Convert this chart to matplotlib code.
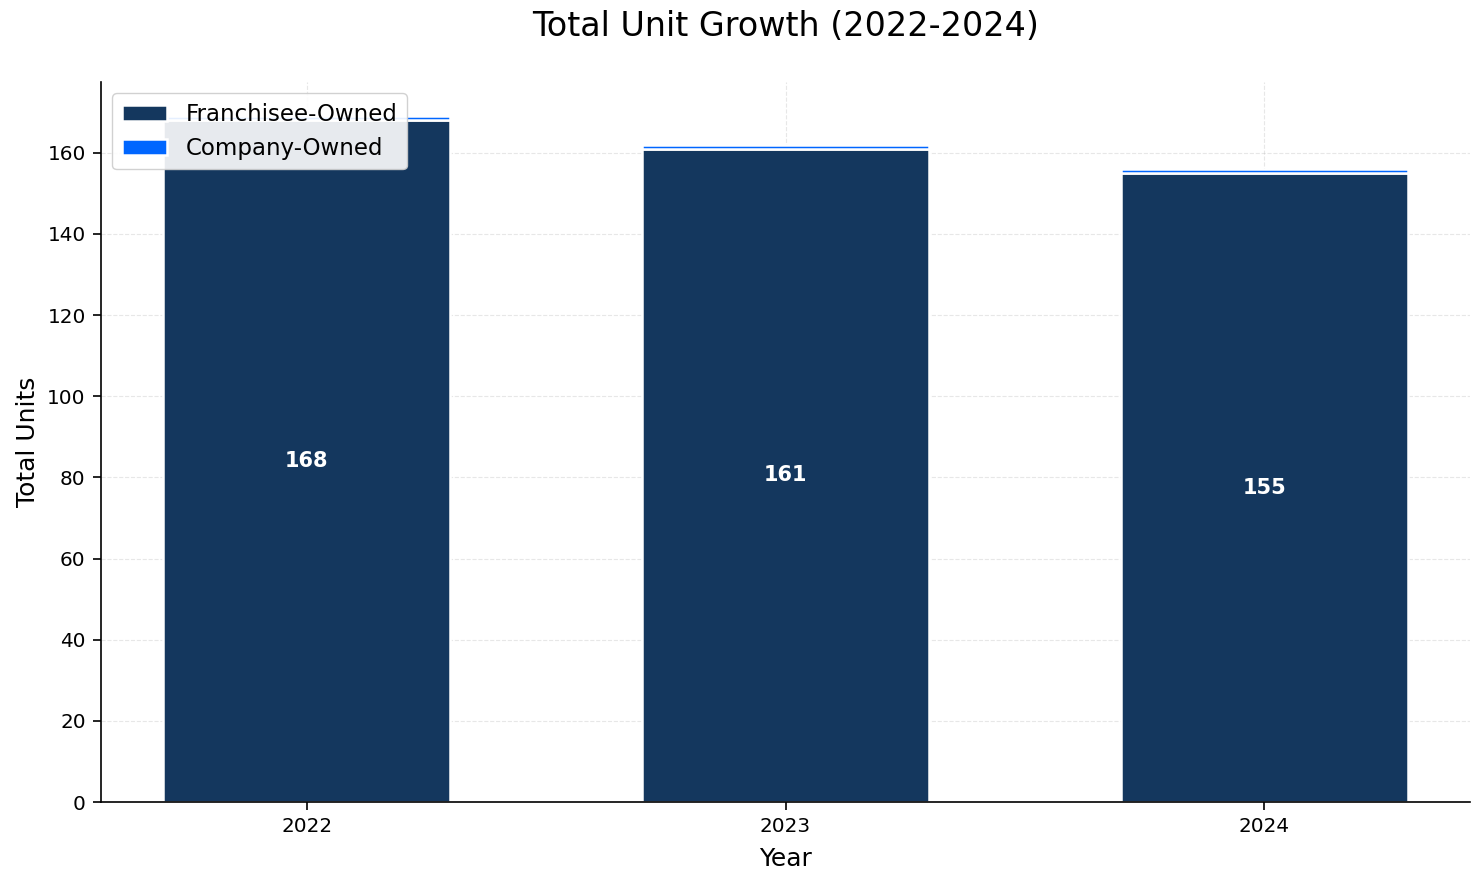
import matplotlib
matplotlib.use("Agg")
import matplotlib.pyplot as plt
import numpy as np

years = ["2022", "2023", "2024"]
franchisee = [168, 161, 155]
company = [1, 1, 1]

fig, ax = plt.subplots(figsize=(14.84, 8.84), dpi=100)
fig.subplots_adjust(left=101/1484, right=1470/1484, bottom=(884-802)/884, top=(884-82)/884)
x = np.arange(len(years))
w = 0.6
ax.bar(x, franchisee, w, color="#14375e", edgecolor="white", linewidth=1.8, label="Franchisee-Owned", zorder=2)
ax.bar(x, company, w, bottom=franchisee, color="#0066ff", edgecolor="white", linewidth=1.8, label="Company-Owned", zorder=2)

for xi, f in zip(x, franchisee):
    ax.text(xi, f / 2, str(f), ha="center", va="center", color="white", fontsize=15, fontweight="bold", zorder=3)

ax.set_xticks(x)
ax.set_xticklabels(years, fontsize=14.4)
ax.tick_params(axis="both", labelsize=14.4, length=6, width=1.2, pad=5)
ax.set_xlabel("Year", fontsize=18, labelpad=8)
ax.set_ylabel("Total Units", fontsize=18, labelpad=5)
ax.set_title("Total Unit Growth (2022-2024)", fontsize=24, pad=33)
ax.grid(True, linestyle="--", alpha=0.3, zorder=0)
for s in ["top", "right"]:
    ax.spines[s].set_visible(False)
for s in ["left", "bottom"]:
    ax.spines[s].set_linewidth(1.2)
ax.legend(loc="upper left", fontsize=16.5, framealpha=0.9)
fig.savefig("out.png", dpi=100)
